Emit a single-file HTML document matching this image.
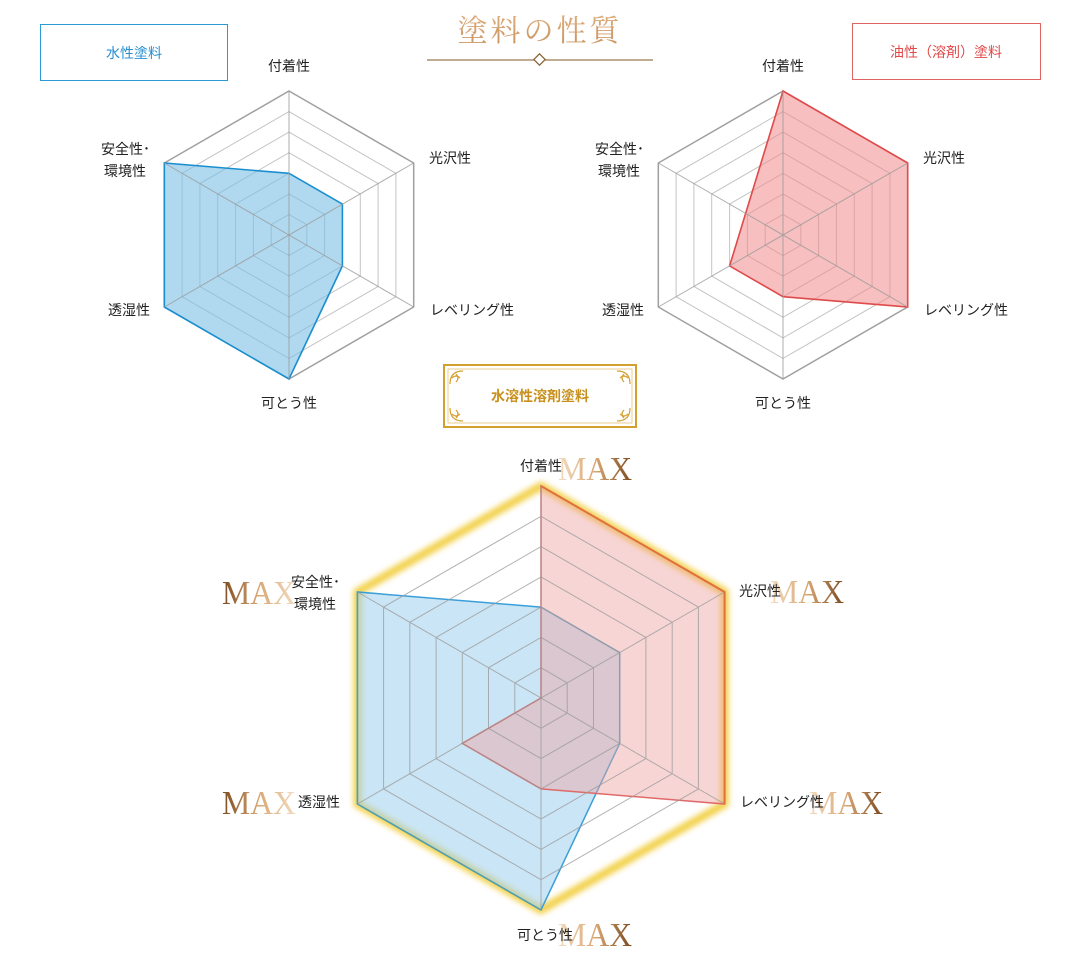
<!DOCTYPE html>
<html><head><meta charset="utf-8"><style>
html,body{margin:0;padding:0;background:#fff;}
svg text{font-family:"Liberation Sans","Noto Sans CJK JP",sans-serif;}
svg text.mx{font-family:"Liberation Serif",serif;}
</style></head><body>
<svg width="1080" height="954" viewBox="0 0 1080 954" xmlns="http://www.w3.org/2000/svg">
<defs>
<linearGradient id="mR" x1="0" x2="1"><stop offset="0" stop-color="#f3dcc0"/><stop offset="0.5" stop-color="#d9a875"/><stop offset="1" stop-color="#7a4a1e"/></linearGradient>
<linearGradient id="mL" x1="0" x2="1"><stop offset="0" stop-color="#7a4a1e"/><stop offset="0.5" stop-color="#d9a875"/><stop offset="1" stop-color="#f3dcc0"/></linearGradient>
<linearGradient id="tg" x1="0" y1="0" x2="0" y2="1"><stop offset="0" stop-color="#e2b486"/><stop offset="1" stop-color="#c8905a"/></linearGradient>
<filter id="glow" x="-10%" y="-10%" width="120%" height="120%"><feGaussianBlur stdDeviation="3"/></filter>
</defs>

<text x="540" y="41" text-anchor="middle" font-size="30" fill="url(#tg)" style="font-family:'Noto Serif CJK SC','Liberation Serif',serif;letter-spacing:3px">塗料の性質</text>
<line x1="427" y1="60" x2="653" y2="60" stroke="#9a7a50" stroke-width="1.2"/>
<rect x="535.5" y="55.5" width="8" height="8" transform="rotate(45 539.5 59.5)" fill="#fff" stroke="#8a6a3a" stroke-width="1.3"/>

<rect x="40.5" y="24.5" width="187" height="56" fill="none" stroke="#2a9ad6"/>
<text x="134" y="58" text-anchor="middle" font-size="14" fill="#2a8fd0">水性塗料</text>
<rect x="852.5" y="23.5" width="188" height="56" fill="none" stroke="#e06464"/>
<text x="946" y="57" text-anchor="middle" font-size="14" fill="#e04a4a">油性（溶剤）塗料</text>

<g fill="none" stroke="#c4c4c4" stroke-width="1">
<polygon points="289,214.4 306.8,224.7 306.8,245.3 289,255.6 271.2,245.3 271.2,224.7"/>
<polygon points="289,193.9 324.6,214.4 324.6,255.6 289,276.1 253.4,255.6 253.4,214.4"/>
<polygon points="289,173.3 342.4,204.1 342.4,265.9 289,296.7 235.6,265.9 235.6,204.1"/>
<polygon points="289,152.7 360.3,193.9 360.3,276.1 289,317.3 217.7,276.1 217.7,193.9"/>
<polygon points="289,132.1 378.1,183.6 378.1,286.4 289,337.9 199.9,286.4 199.9,183.6"/>
<polygon points="289,111.6 395.9,173.3 395.9,296.7 289,358.4 182.1,296.7 182.1,173.3"/>
</g>
<polygon points="289,91 413.7,163 413.7,307 289,379 164.3,307 164.3,163" fill="none" stroke="#a0a0a0" stroke-width="1.5"/>
<polygon points="289,173.3 342.4,204.1 342.4,265.9 289,379 164.3,307 164.3,163" fill="#7bc0e6" fill-opacity="0.6" stroke="#1a8fd0" stroke-width="1.6"/>
<g stroke="#9a9a9a" stroke-width="1" opacity="0.8">
<line x1="289" y1="91" x2="289" y2="379"/><line x1="413.7" y1="163" x2="164.3" y2="307"/><line x1="413.7" y1="307" x2="164.3" y2="163"/>
</g>
<g font-size="14" fill="#222">
<text x="289" y="71" text-anchor="middle">付着性</text>
<text x="429" y="163">光沢性</text>
<text x="430" y="315">レベリング性</text>
<text x="289" y="408" text-anchor="middle">可とう性</text>
<text x="150" y="315" text-anchor="end">透湿性</text>
<text x="150" y="154" text-anchor="end">安全性･</text>
<text x="146" y="176" text-anchor="end">環境性</text>
</g>

<g fill="none" stroke="#c4c4c4" stroke-width="1">
<polygon points="783,214.4 800.8,224.7 800.8,245.3 783,255.6 765.2,245.3 765.2,224.7"/>
<polygon points="783,193.9 818.6,214.4 818.6,255.6 783,276.1 747.4,255.6 747.4,214.4"/>
<polygon points="783,173.3 836.4,204.1 836.4,265.9 783,296.7 729.6,265.9 729.6,204.1"/>
<polygon points="783,152.7 854.3,193.9 854.3,276.1 783,317.3 711.7,276.1 711.7,193.9"/>
<polygon points="783,132.1 872.1,183.6 872.1,286.4 783,337.9 693.9,286.4 693.9,183.6"/>
<polygon points="783,111.6 889.9,173.3 889.9,296.7 783,358.4 676.1,296.7 676.1,173.3"/>
</g>
<polygon points="783,91 907.7,163 907.7,307 783,379 658.3,307 658.3,163" fill="none" stroke="#a0a0a0" stroke-width="1.5"/>
<polygon points="783,91 907.7,163 907.7,307 783,296.7 729.6,265.9" fill="#f08a8a" fill-opacity="0.55" stroke="#e04a4a" stroke-width="1.6"/>
<g stroke="#9a9a9a" stroke-width="1" opacity="0.8">
<line x1="783" y1="91" x2="783" y2="379"/><line x1="907.7" y1="163" x2="658.3" y2="307"/><line x1="907.7" y1="307" x2="658.3" y2="163"/>
</g>
<g font-size="14" fill="#222">
<text x="783" y="71" text-anchor="middle">付着性</text>
<text x="923" y="163">光沢性</text>
<text x="924" y="315">レベリング性</text>
<text x="783" y="408" text-anchor="middle">可とう性</text>
<text x="644" y="315" text-anchor="end">透湿性</text>
<text x="644" y="154" text-anchor="end">安全性･</text>
<text x="640" y="176" text-anchor="end">環境性</text>
</g>

<rect x="444" y="365" width="192" height="62" fill="#fff" stroke="#d4a030" stroke-width="2"/>
<rect x="448" y="369" width="184" height="54" fill="none" stroke="#e6c27a" stroke-width="0.8"/>
<g fill="none" stroke="#d4a030" stroke-width="1.2">
<path d="M450 384 Q450 371 463 371 M452 378 q4 -4 8 0 M456 374 q4 4 0 8"/>
<path d="M630 384 Q630 371 617 371 M628 378 q-4 -4 -8 0 M624 374 q-4 4 0 8"/>
<path d="M450 408 Q450 421 463 421 M452 414 q4 4 8 0 M456 418 q4 -4 0 -8"/>
<path d="M630 408 Q630 421 617 421 M628 414 q-4 4 -8 0 M624 418 q-4 -4 0 -8"/>
</g>
<text x="540" y="401" text-anchor="middle" font-size="14" fill="#c8901c" font-weight="bold">水溶性溶剤塗料</text>

<polygon points="541,486 724.6,592 724.6,804 541,910 357.4,804 357.4,592" fill="none" stroke="#f0c828" stroke-width="8" filter="url(#glow)" opacity="0.85"/>
<polygon points="541,910 357.4,804 357.4,592 541,607.1 619.7,652.6 619.7,743.4" fill="#9fd0ec" fill-opacity="0.55" stroke="#3a9fd8" stroke-width="1.5"/>
<polygon points="541,486 724.6,592 724.6,804 541,788.9 462.3,743.4 541,698" fill="#eea2a2" fill-opacity="0.45" stroke="#e06a6a" stroke-width="1.5"/>
<g fill="none" stroke="#999" stroke-width="1" opacity="0.75">
<polygon points="541,667.7 567.2,682.9 567.2,713.1 541,728.3 514.8,713.1 514.8,682.9"/>
<polygon points="541,637.4 593.5,667.7 593.5,728.3 541,758.6 488.5,728.3 488.5,667.7"/>
<polygon points="541,607.1 619.7,652.6 619.7,743.4 541,788.9 462.3,743.4 462.3,652.6"/>
<polygon points="541,576.9 645.9,637.4 645.9,758.6 541,819.1 436.1,758.6 436.1,637.4"/>
<polygon points="541,546.6 672.2,622.3 672.2,773.7 541,849.4 409.8,773.7 409.8,622.3"/>
<polygon points="541,516.3 698.4,607.1 698.4,788.9 541,879.7 383.6,788.9 383.6,607.1"/>
<line x1="541" y1="486" x2="541" y2="910"/><line x1="724.6" y1="592" x2="357.4" y2="804"/><line x1="724.6" y1="804" x2="357.4" y2="592"/>
</g>
<polyline points="541,486 724.6,592 724.6,804" fill="none" stroke="#e07040" stroke-width="2"/>
<polyline points="541,910 357.4,804 357.4,592" fill="none" stroke="#5aa0a0" stroke-width="1.5" opacity="0.7"/>

<g font-size="34">
<text class="mx" x="558" y="480" fill="url(#mR)" textLength="74" lengthAdjust="spacingAndGlyphs">MAX</text>
<text class="mx" x="770" y="603" fill="url(#mR)" textLength="74" lengthAdjust="spacingAndGlyphs">MAX</text>
<text class="mx" x="809" y="814" fill="url(#mR)" textLength="74" lengthAdjust="spacingAndGlyphs">MAX</text>
<text class="mx" x="558" y="946" fill="url(#mR)" textLength="74" lengthAdjust="spacingAndGlyphs">MAX</text>
<text class="mx" x="222" y="604" fill="url(#mL)" textLength="74" lengthAdjust="spacingAndGlyphs">MAX</text>
<text class="mx" x="222" y="814" fill="url(#mL)" textLength="74" lengthAdjust="spacingAndGlyphs">MAX</text>
</g>
<g font-size="14" fill="#222">
<text x="541" y="471" text-anchor="middle">付着性</text>
<text x="739" y="596">光沢性</text>
<text x="740" y="807">レベリング性</text>
<text x="545" y="940" text-anchor="middle">可とう性</text>
<text x="340" y="807" text-anchor="end">透湿性</text>
<text x="340" y="587" text-anchor="end">安全性･</text>
<text x="336" y="609" text-anchor="end">環境性</text>
</g>
</svg>
</body></html>
